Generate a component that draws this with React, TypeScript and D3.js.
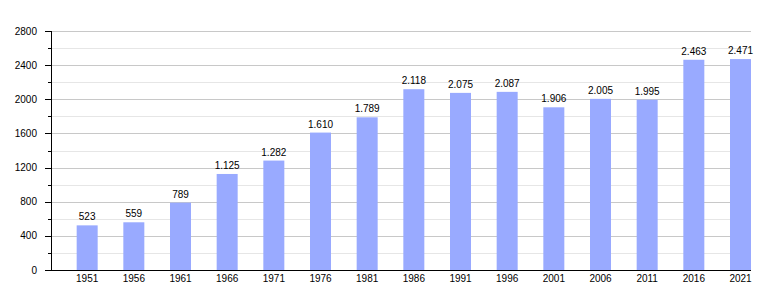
import React from "react";
import * as d3 from "d3";

const years = ["1951","1956","1961","1966","1971","1976","1981","1986","1991","1996","2001","2006","2011","2016","2021"];
const population = [523,559,789,1125,1282,1610,1789,2118,2075,2087,1906,2005,1995,2463,2471];
const majorTicks = [0,400,800,1200,1600,2000,2400,2800];
const minorTicks = [200,600,1000,1400,1800,2200,2600];

const W = 780, H = 300;
const left = 51, right = 751, top = 31, bottom = 270;

export default function App() {
  const x = d3.scaleBand<string>().domain(years).range([left, right]).paddingInner(0).paddingOuter(0);
  const y = d3.scaleLinear().domain([0, 2800]).range([bottom, top]);
  const bw = x.bandwidth();
  const barW = 21;
  const fmt = (v: number) => d3.format(",")(v).replace(/,/g, ".");
  const font = "'Liberation Sans', Arial, sans-serif";
  return (
    <svg width={W} height={H} style={{ position: "absolute", left: 0, top: 0, background: "#fff" }} fontFamily={font}>
      {minorTicks.map(t => (
        <g key={"m" + t}>
          <line x1={left} x2={right} y1={Math.round(y(t)) + 0.5} y2={Math.round(y(t)) + 0.5} stroke="#e6e6e6" />
          <line x1={left - 3} x2={left} y1={Math.round(y(t)) + 0.5} y2={Math.round(y(t)) + 0.5} stroke="#000" />
        </g>
      ))}
      {majorTicks.filter(t => t > 0).map(t => (
        <line key={"g" + t} x1={left} x2={right} y1={Math.round(y(t)) + 0.5} y2={Math.round(y(t)) + 0.5} stroke="#c8c8c8" />
      ))}
      {majorTicks.map(t => (
        <g key={"t" + t}>
          <line x1={left - 6} x2={left} y1={Math.round(y(t)) + 0.5} y2={Math.round(y(t)) + 0.5} stroke="#000" />
          <text x={37} y={y(t) + 3.5} textAnchor="end" fontSize={10} fill="#000">{t}</text>
        </g>
      ))}
      {years.map((yr, i) => {
        const x0 = (x(yr) as number) + bw - barW;
        const v = population[i];
        return (
          <g key={yr}>
            <rect x={x0} y={y(v)} width={barW} height={bottom - y(v)} fill="#99aaff" />
            <text x={x0 + barW / 2} y={y(v) - 5} textAnchor="middle" fontSize={10} fill="#000">{fmt(v)}</text>
            <text x={x0 + barW / 2} y={bottom + 12} textAnchor="middle" fontSize={10} fill="#000">{yr}</text>
          </g>
        );
      })}
      <line x1={left + 0.5} x2={left + 0.5} y1={top} y2={bottom} stroke="#000" />
      <line x1={left} x2={right} y1={bottom + 0.5} y2={bottom + 0.5} stroke="#000" />
    </svg>
  );
}
